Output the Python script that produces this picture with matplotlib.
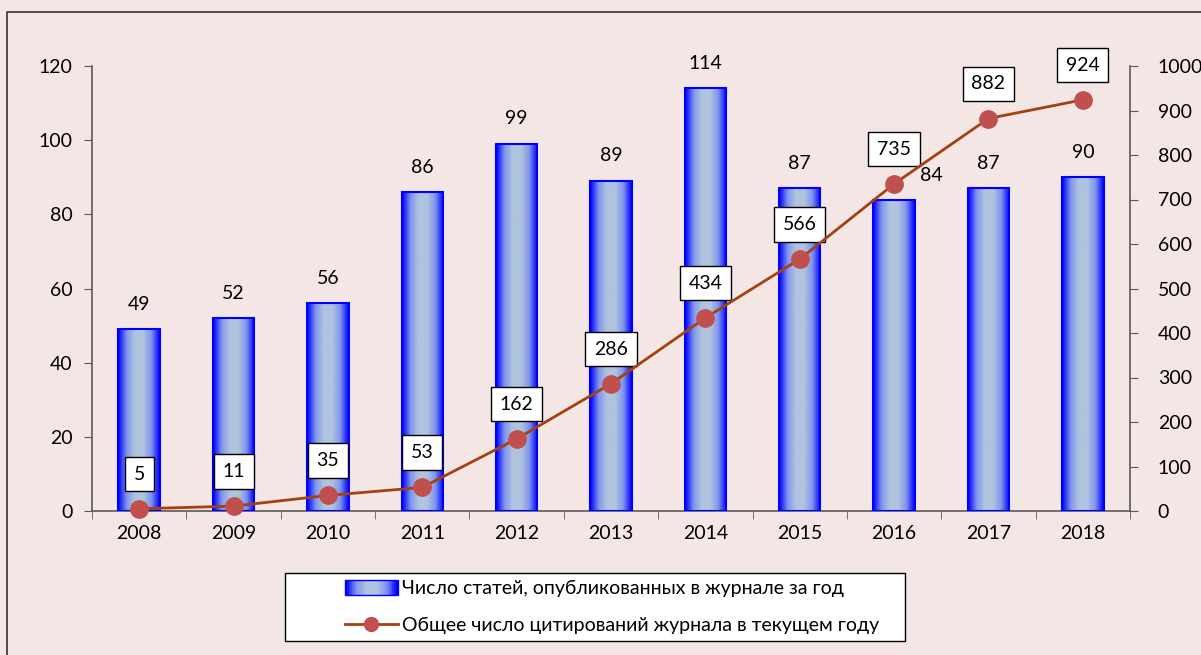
import numpy as np
import matplotlib
matplotlib.use("Agg")
import matplotlib.pyplot as plt
from matplotlib.colors import LinearSegmentedColormap
from matplotlib.patches import Rectangle
from matplotlib.legend_handler import HandlerBase
from matplotlib.lines import Line2D

plt.rcParams['font.family'] = ['Lato', 'DejaVu Sans']

# данные
years = ['2008', '2009', '2010', '2011', '2012', '2013', '2014', '2015', '2016', '2017', '2018']
articles = [49, 52, 56, 86, 99, 89, 114, 87, 84, 87, 90]
citations = [5, 11, 35, 53, 162, 286, 434, 566, 735, 882, 924]
bar_label = 'Число статей, опубликованных в журнале за год'
line_label = 'Общее число цитирований журнала в текущем году'

bg = '#F5E6E6'
axis_col = '#595959'
bar_edge = '#0000FF'
line_col = '#A5400F'
marker_col = '#C0504D'
fs = 14
grad_cmap = LinearSegmentedColormap.from_list(
    'grad', ['#0000FF', '#7F95EE', '#B0C4DE', '#B0C4DE', '#7F95EE', '#0000FF'])


class GradientHandler(HandlerBase):
    def create_artists(self, legend, orig_handle, xdescent, ydescent,
                       width, height, fontsize, trans):
        n = 30
        arts = []
        for i in range(n):
            c = grad_cmap(i / (n - 1))
            r = Rectangle((-xdescent + width * i / n, -ydescent), width / n + 0.3, height,
                          facecolor=c, edgecolor='none', transform=trans)
            arts.append(r)
        arts.append(Rectangle((-xdescent, -ydescent), width, height, facecolor='none',
                              edgecolor=bar_edge, lw=1, transform=trans))
        return arts


fig = plt.figure(figsize=(12.01, 6.55), dpi=100)
fig.patch.set_facecolor(bg)
# внешняя рамка
fig.patches.append(Rectangle((7 / 1201, -0.1), 1.2, 1 - 12 / 655 + 0.1,
                             transform=fig.transFigure, fill=False,
                             edgecolor='#333333', lw=1.2))
# рамка легенды
fig.patches.append(Rectangle((285 / 1201, 1 - 641 / 655), 620 / 1201, 68 / 655,
                             transform=fig.transFigure, facecolor='white',
                             edgecolor='black', lw=1))

ax = fig.add_axes([92 / 1201, 1 - 511 / 655, (1130 - 92) / 1201, (511 - 66) / 655])
ax.set_facecolor('none')
x = np.arange(len(years))
bars = ax.bar(x, articles, width=0.44, facecolor='none', edgecolor=bar_edge,
              lw=1.5, zorder=3)
grad = np.linspace(0, 1, 64).reshape(1, -1)
for b in bars:
    ax.imshow(grad, extent=[b.get_x(), b.get_x() + b.get_width(), 0, b.get_height()],
              aspect='auto', cmap=grad_cmap, zorder=2, interpolation='bicubic')

for i, v in enumerate(articles):
    dx = 27 if years[i] == '2016' else 0
    dy = 17 if years[i] == '2016' else 18
    ax.annotate(str(v), (x[i], v), xytext=(dx, dy), textcoords='offset points',
                ha='center', va='center', fontsize=fs)

ax.set_xlim(-0.5, len(years) - 0.5)
ax.set_ylim(0, 120)
ax.set_yticks(range(0, 121, 20))
ax.set_xticks(x)
ax.set_xticklabels(years)
ax.set_xticks(np.arange(-0.5, len(years)), minor=True)
ax.tick_params(axis='x', which='major', length=0, pad=10, labelsize=fs)
ax.tick_params(axis='x', which='minor', length=6, color=axis_col, direction='out')
ax.tick_params(axis='y', length=6, color=axis_col, labelsize=fs, pad=8)
for s in ['top', 'right']:
    ax.spines[s].set_visible(False)
for s in ['left', 'bottom']:
    ax.spines[s].set_color(axis_col)
    ax.spines[s].set_linewidth(1.2)

ax2 = ax.twinx()
ax2.set_ylim(0, 1000)
ax2.set_yticks(range(0, 1001, 100))
ax2.plot(x, citations, color=line_col, lw=2, marker='o', markersize=12.5,
         markerfacecolor=marker_col, markeredgecolor=marker_col, zorder=4,
         clip_on=False)
for i, v in enumerate(citations):
    ax2.annotate(str(v), (x[i], v), xytext=(0, 25), textcoords='offset points',
                 ha='center', va='center', fontsize=fs,
                 bbox=dict(boxstyle='square,pad=0.45', fc='white', ec='black', lw=1))
ax2.tick_params(axis='y', length=6, color=axis_col, labelsize=fs, pad=14)
for s in ['top', 'left', 'bottom']:
    ax2.spines[s].set_visible(False)
ax2.spines['right'].set_color(axis_col)
ax2.spines['right'].set_linewidth(1.2)

handle_bar = Rectangle((0, 0), 1, 1)
handle_line = Line2D([], [], color=line_col, lw=2, marker='o', markersize=10,
                     markerfacecolor=marker_col, markeredgecolor=marker_col)
leg = fig.legend([handle_bar, handle_line], [bar_label, line_label],
                 loc='center left', bbox_to_anchor=(345 / 1201, 1 - 607 / 655),
                 handler_map={Rectangle: GradientHandler()},
                 fontsize=14, frameon=False, handlelength=2.7,
                 handleheight=0.8, handletextpad=0.25, labelspacing=1.0,
                 borderpad=0, borderaxespad=0)

fig.savefig('out.png', dpi=100, facecolor=bg)
